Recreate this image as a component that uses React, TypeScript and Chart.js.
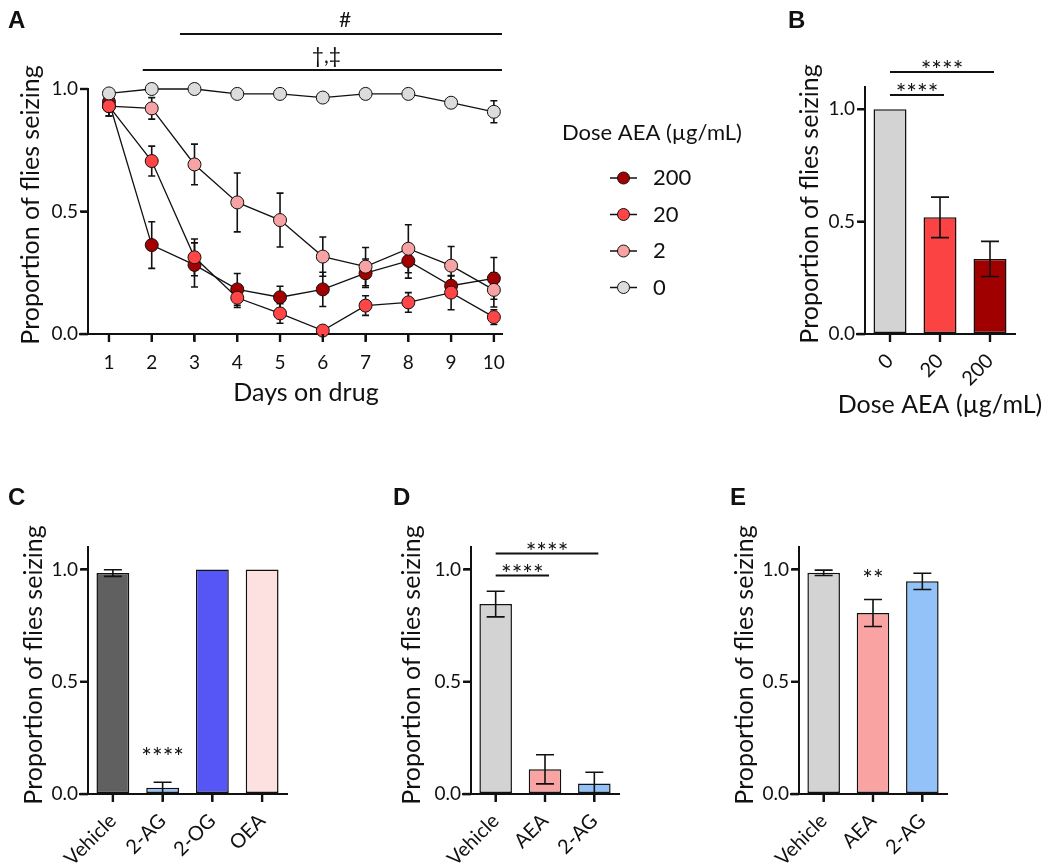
import React, { useEffect, useRef } from 'react';
import { Chart, registerables } from 'chart.js';

Chart.register(...registerables);

const FONT = 'Lato, "Open Sans", "DejaVu Sans", sans-serif';
const BOLD = '"Liberation Sans", Arial, sans-serif';
const INK = '#111111';

// ---------------- Panel A: time course ----------------
const days = [1, 2, 3, 4, 5, 6, 7, 8, 9, 10];
const aSeriesNames = ['200', '20', '2', '0'];
const aColors = ['#a30000', '#ff4545', '#f8a3a3', '#dcdcdc'];
const aOrder = [3, 1, 2, 0];
const a200 = [0.948, 0.363, 0.282, 0.182, 0.150, 0.182, 0.248, 0.298, 0.197, 0.227];
const a200Err = [0.04, 0.095, 0.09, 0.065, 0.045, 0.07, 0.058, 0.07, 0.04, 0.085];
const a20 = [0.930, 0.706, 0.313, 0.148, 0.084, 0.014, 0.116, 0.129, 0.169, 0.069];
const a20Err = [0.04, 0.061, 0.075, 0.04, 0.04, 0.0, 0.04, 0.04, 0.07, 0.03];
const a2 = [0.930, 0.921, 0.692, 0.537, 0.465, 0.316, 0.275, 0.348, 0.279, 0.180];
const a2Err = [0.04, 0.044, 0.083, 0.12, 0.11, 0.08, 0.078, 0.098, 0.078, 0.07];
const a0 = [0.982, 1.0, 1.0, 0.98, 0.98, 0.965, 0.98, 0.98, 0.944, 0.907];
const a0Err = [0.005, 0, 0, 0.005, 0.005, 0.01, 0.005, 0.005, 0.02, 0.045];
const aSeries = [a200, a20, a2, a0];
const aErrors = [a200Err, a20Err, a2Err, a0Err];
const yTicks = [0, 0.5, 1.0];
// significance bars above panel A
const aSig = [
  { from: 2.66, to: 10.19, y: 1.224, label: '#' },
  { from: 1.79, to: 10.19, y: 1.078, label: '\u2020,\u2021' },
];

// ---------------- Panel B ----------------
const bCategories = ['0', '20', '200'];
const bValues = [1.0, 0.519, 0.334];
const bErrors = [0, 0.09, 0.078];
const bColors = ['#d3d3d3', '#fc4343', '#a00000'];
const bSig = [
  { from: 0, to: 1, y: 1.064, label: '****', line: true },
  { from: 0, to: 2, y: 1.166, label: '****', line: true },
];

// ---------------- Panel C ----------------
const cCategories = ['Vehicle', '2-AG', '2-OG', 'OEA'];
const cValues = [0.984, 0.028, 1.0, 1.0];
const cErrors = [0.015, 0.024, 0, 0];
const cColors = ['#606060', '#92c2f8', '#5656f6', '#fde0e0'];
const cSig = [{ from: 1, to: 1, y: 0.188, label: '****', line: false }];

// ---------------- Panel D ----------------
const dCategories = ['Vehicle', 'AEA', '2-AG'];
const dValues = [0.846, 0.11, 0.047];
const dErrors = [0.057, 0.065, 0.05];
const dColors = ['#d3d3d3', '#f9a3a3', '#92c2f8'];
const dSig = [
  { from: 0, to: 1, y: 0.973, label: '****', line: true },
  { from: 0, to: 2, y: 1.071, label: '****', line: true },
];

// ---------------- Panel E ----------------
const eCategories = ['Vehicle', 'AEA', '2-AG'];
const eValues = [0.985, 0.806, 0.947];
const eErrors = [0.012, 0.06, 0.036];
const eColors = ['#d3d3d3', '#f9a3a3', '#92c2f8'];
const eSig = [{ from: 1, to: 1, y: 0.98, label: '**', line: false }];

type Box = { x: number; y: number; w: number; h: number };
type Area = { l: number; t: number; r: number; b: number };

function padFor(box: Box, area: Area, yW: number, xH: number) {
  return {
    left: area.l - box.x - yW,
    right: box.x + box.w - area.r,
    top: area.t - box.y,
    bottom: box.y + box.h - area.b - xH,
  };
}

function drawErrorBars(chart: any, capHalf: number, clampZero: boolean) {
  const ctx = chart.ctx;
  const ys = chart.scales.y;
  ctx.save();
  ctx.strokeStyle = INK;
  ctx.lineWidth = 1.6;
  chart.data.datasets.forEach((ds: any, di: number) => {
    const errs = ds.errors;
    if (!errs) return;
    const meta = chart.getDatasetMeta(di);
    meta.data.forEach((el: any, i: number) => {
      const e = errs[i];
      if (!e) return;
      const raw = ds.data[i];
      const v = typeof raw === 'number' ? raw : raw.y;
      const x = el.x;
      const top = ys.getPixelForValue(v + e);
      const lowV = clampZero ? Math.max(0, v - e) : v - e;
      const bot = ys.getPixelForValue(lowV);
      ctx.beginPath();
      ctx.moveTo(x, top);
      ctx.lineTo(x, bot);
      ctx.moveTo(x - capHalf, top);
      ctx.lineTo(x + capHalf, top);
      if (!clampZero || v - e > 0.003) {
        ctx.moveTo(x - capHalf, bot);
        ctx.lineTo(x + capHalf, bot);
      }
      ctx.stroke();
    });
  });
  ctx.restore();
}

function drawTickMarks(chart: any) {
  const ctx = chart.ctx;
  const a = chart.chartArea;
  const xs = chart.scales.x;
  const ys = chart.scales.y;
  ctx.save();
  ctx.fillStyle = INK;
  const xt: number[] = xs.ticks.map((t: any) => xs.getPixelForValue(t.value));
  const yt: number[] = ys.ticks.map((t: any) => ys.getPixelForValue(t.value));
  xt.forEach((px) => {
    if (isFinite(px)) ctx.fillRect(px - 1.2, a.bottom, 2.4, 8);
  });
  yt.forEach((py) => {
    if (isFinite(py)) ctx.fillRect(a.left - 8, py - 1.2, 8, 2.4);
  });
  // small stub of the x axis left of the y axis
  ctx.fillRect(a.left - 9, a.bottom - 1, 9, 2.2);
  ctx.restore();
}

function drawYTitle(ctx: any, text: string, x: number, y: number) {
  ctx.save();
  ctx.translate(x, y);
  ctx.rotate(-Math.PI / 2);
  ctx.font = `25px ${FONT}`;
  ctx.fillStyle = INK;
  ctx.textAlign = 'center';
  ctx.textBaseline = 'middle';
  ctx.fillText(text, 0, 0);
  ctx.restore();
}

function drawText(ctx: any, text: string, x: number, y: number, font: string, align = 'center', baseline = 'middle') {
  ctx.save();
  ctx.font = font;
  ctx.fillStyle = INK;
  ctx.textAlign = align;
  ctx.textBaseline = baseline;
  ctx.fillText(text, x, y);
  ctx.restore();
}

function drawSig(chart: any, sigs: any[]) {
  const ctx = chart.ctx;
  const xs = chart.scales.x;
  const ys = chart.scales.y;
  ctx.save();
  sigs.forEach((s) => {
    const x0 = xs.getPixelForValue(s.from);
    const x1 = xs.getPixelForValue(s.to);
    const yy = ys.getPixelForValue(s.y);
    if (s.line) {
      ctx.strokeStyle = INK;
      ctx.lineWidth = 2;
      ctx.beginPath();
      ctx.moveTo(x0, yy);
      ctx.lineTo(x1 + 4, yy);
      ctx.stroke();
      drawText(ctx, s.label, (x0 + x1 + 4) / 2, yy + 7, `25px ${FONT}`, 'center', 'alphabetic');
    } else {
      drawText(ctx, s.label, x0, yy + 14, `25px ${FONT}`, 'center', 'alphabetic');
    }
  });
  ctx.restore();
}

function axisCommon() {
  return {
    grid: { display: true, drawOnChartArea: false, drawTicks: true, tickLength: 7, color: INK, lineWidth: 2 },
    border: { display: true, color: INK, width: 2 },
  };
}

function makeBar(
  canvas: HTMLCanvasElement,
  box: Box,
  area: Area,
  cats: string[],
  vals: number[],
  errs: number[],
  colors: string[],
  sigs: any[],
  letter: { text: string; x: number; y: number },
  yTitle: { x: number; y: number },
  xTitle?: { text: string; x: number; y: number }
) {
  const yW = 40;
  const xH = Math.min(72, box.y + box.h - area.b - 2);
  return new Chart(canvas, {
    type: 'bar',
    data: {
      labels: cats,
      datasets: [
        {
          data: vals,
          errors: errs,
          backgroundColor: colors,
          borderColor: INK,
          borderWidth: 1.5,
          borderSkipped: false,
          categoryPercentage: 1,
          barPercentage: 0.66,
        } as any,
      ],
    },
    options: {
      responsive: false,
      animation: false,
      devicePixelRatio: 1,
      layout: { padding: padFor(box, area, yW, xH) },
      plugins: { legend: { display: false }, tooltip: { enabled: false }, title: { display: false } },
      scales: {
        x: {
          type: 'category',
          offset: true,
          ...axisCommon(),
          grid: { ...axisCommon().grid, offset: false },
          ticks: { color: INK, font: { family: FONT, size: 20 }, minRotation: 45, maxRotation: 45, padding: 8, autoSkip: false },
          afterFit: (s: any) => {
            s.height = xH;
          },
        },
        y: {
          type: 'linear',
          min: 0,
          max: 1.1,
          ...axisCommon(),
          ticks: { color: INK, font: { family: FONT, size: 19 }, padding: 3, callback: (v: any) => Number(v).toFixed(1) },
          afterBuildTicks: (s: any) => {
            s.ticks = yTicks.map((v) => ({ value: v }));
          },
          afterFit: (s: any) => {
            s.width = yW;
          },
        },
      } as any,
    },
    plugins: [
      {
        id: 'extras',
        afterDatasetsDraw(chart: any) {
          drawErrorBars(chart, 9, true);
        },
        afterDraw(chart: any) {
          const ctx = chart.ctx;
          drawTickMarks(chart);
          drawSig(chart, sigs);
          drawYTitle(ctx, 'Proportion of flies seizing', yTitle.x - box.x, yTitle.y - box.y);
          drawText(ctx, letter.text, letter.x - box.x, letter.y - box.y, `bold 24px ${BOLD}`, 'left', 'middle');
          if (xTitle) drawText(ctx, xTitle.text, xTitle.x - box.x, xTitle.y - box.y, `25px ${FONT}`, 'center', 'middle');
        },
      },
    ],
  });
}

function makeLine(canvas: HTMLCanvasElement, box: Box, area: Area) {
  const yW = 40;
  const xH = 60;
  return new Chart(canvas, {
    type: 'line',
    data: {
      datasets: aSeries.map((vals, k) => ({
        label: aSeriesNames[k],
        data: days.map((d, i) => ({ x: d, y: vals[i] })),
        errors: aErrors[k],
        borderColor: INK,
        borderWidth: 1.3,
        backgroundColor: aColors[k],
        pointBackgroundColor: aColors[k],
        pointBorderColor: INK,
        pointBorderWidth: 1,
        pointRadius: 6.5,
        tension: 0,
        clip: false,
        order: aOrder[k],
      })) as any,
    },
    options: {
      responsive: false,
      animation: false,
      devicePixelRatio: 1,
      layout: { padding: padFor(box, area, yW, xH) },
      plugins: { legend: { display: false }, tooltip: { enabled: false }, title: { display: false } },
      scales: {
        x: {
          type: 'linear',
          min: 0.51,
          max: 10.19,
          ...axisCommon(),
          ticks: { color: INK, font: { family: FONT, size: 19 }, padding: 10, maxRotation: 0, callback: (v: any) => String(v) },
          afterBuildTicks: (s: any) => {
            s.ticks = days.map((v) => ({ value: v }));
          },
          afterFit: (s: any) => {
            s.height = xH;
          },
        },
        y: {
          type: 'linear',
          min: 0,
          max: 1,
          ...axisCommon(),
          ticks: { color: INK, font: { family: FONT, size: 19 }, padding: 3, callback: (v: any) => Number(v).toFixed(1) },
          afterBuildTicks: (s: any) => {
            s.ticks = yTicks.map((v) => ({ value: v }));
          },
          afterFit: (s: any) => {
            s.width = yW;
          },
        },
      } as any,
    },
    plugins: [
      {
        id: 'extrasA',
        beforeDatasetsDraw(chart: any) {
          drawErrorBars(chart, 3.5, false);
        },
        afterDraw(chart: any) {
          const ctx = chart.ctx;
          const xs = chart.scales.x;
          const ys = chart.scales.y;
          drawTickMarks(chart);
          aSig.forEach((s) => {
            const x0 = xs.getPixelForValue(s.from);
            const x1 = xs.getPixelForValue(s.to);
            const yy = ys.getPixelForValue(s.y);
            ctx.save();
            ctx.strokeStyle = INK;
            ctx.lineWidth = 2;
            ctx.beginPath();
            ctx.moveTo(x0, yy);
            ctx.lineTo(x1, yy);
            ctx.stroke();
            ctx.restore();
            drawText(ctx, s.label, (x0 + x1) / 2 + 4, yy - 7, `21px ${FONT}`, 'center', 'alphabetic');
          });
          drawYTitle(ctx, 'Proportion of flies seizing', 31 - box.x, 205 - box.y);
          drawText(ctx, 'Days on drug', 306 - box.x, 401 - box.y, `25px ${FONT}`, 'center', 'alphabetic');
          drawText(ctx, 'A', 8 - box.x, 21 - box.y, `bold 24px ${BOLD}`, 'left', 'middle');
          // legend
          drawText(ctx, 'Dose AEA (\u00b5g/mL)', 562 - box.x, 133 - box.y, `22px ${FONT}`, 'left', 'middle');
          aSeriesNames.forEach((name, k) => {
            const ly = 178 + k * 36.5 - box.y;
            ctx.save();
            ctx.strokeStyle = INK;
            ctx.lineWidth = 1.5;
            ctx.beginPath();
            ctx.moveTo(610 - box.x, ly);
            ctx.lineTo(637 - box.x, ly);
            ctx.stroke();
            ctx.beginPath();
            ctx.arc(623.5 - box.x, ly, 6, 0, Math.PI * 2);
            ctx.fillStyle = aColors[k];
            ctx.fill();
            ctx.lineWidth = 1;
            ctx.stroke();
            ctx.restore();
            drawText(ctx, name, 653 - box.x, ly, `22px ${FONT}`, 'left', 'middle');
          });
        },
      },
    ],
  });
}

function Panel({ box, build }: { box: Box; build: (c: HTMLCanvasElement) => Chart }) {
  const ref = useRef<HTMLCanvasElement>(null);
  useEffect(() => {
    const chart = build(ref.current as HTMLCanvasElement);
    return () => chart.destroy();
  }, []);
  return (
    <canvas
      ref={ref}
      width={box.w}
      height={box.h}
      style={{ position: 'absolute', left: box.x, top: box.y, width: box.w, height: box.h, display: 'block' }}
    />
  );
}

const boxA: Box = { x: 0, y: 0, w: 760, h: 415 };
const boxB: Box = { x: 770, y: 0, w: 280, h: 425 };
const boxC: Box = { x: 0, y: 425, w: 350, h: 440 };
const boxD: Box = { x: 350, y: 425, w: 350, h: 440 };
const boxE: Box = { x: 700, y: 425, w: 350, h: 440 };

export default function App() {
  return (
    <div style={{ position: 'absolute', left: 0, top: 0, width: 1050, height: 865, background: '#ffffff', overflow: 'hidden' }}>
      <Panel box={boxA} build={(c) => makeLine(c, boxA, { l: 88, t: 89, r: 502, b: 334 })} />
      <Panel
        box={boxB}
        build={(c) =>
          makeBar(c, boxB, { l: 865, t: 86.8, r: 1015, b: 334 }, bCategories, bValues, bErrors, bColors, bSig,
            { text: 'B', x: 788, y: 21 }, { x: 810, y: 204 }, { text: 'Dose AEA (\u00b5g/mL)', x: 940, y: 405 })
        }
      />
      <Panel
        box={boxC}
        build={(c) =>
          makeBar(c, boxC, { l: 88, t: 547, r: 287, b: 794 }, cCategories, cValues, cErrors, cColors, cSig,
            { text: 'C', x: 8, y: 498 }, { x: 34, y: 665 })
        }
      />
      <Panel
        box={boxD}
        build={(c) =>
          makeBar(c, boxD, { l: 471, t: 547, r: 619, b: 794 }, dCategories, dValues, dErrors, dColors, dSig,
            { text: 'D', x: 393, y: 498 }, { x: 412, y: 665 })
        }
      />
      <Panel
        box={boxE}
        build={(c) =>
          makeBar(c, boxE, { l: 799, t: 547, r: 947, b: 794 }, eCategories, eValues, eErrors, eColors, eSig,
            { text: 'E', x: 730, y: 498 }, { x: 745, y: 665 })
        }
      />
    </div>
  );
}
